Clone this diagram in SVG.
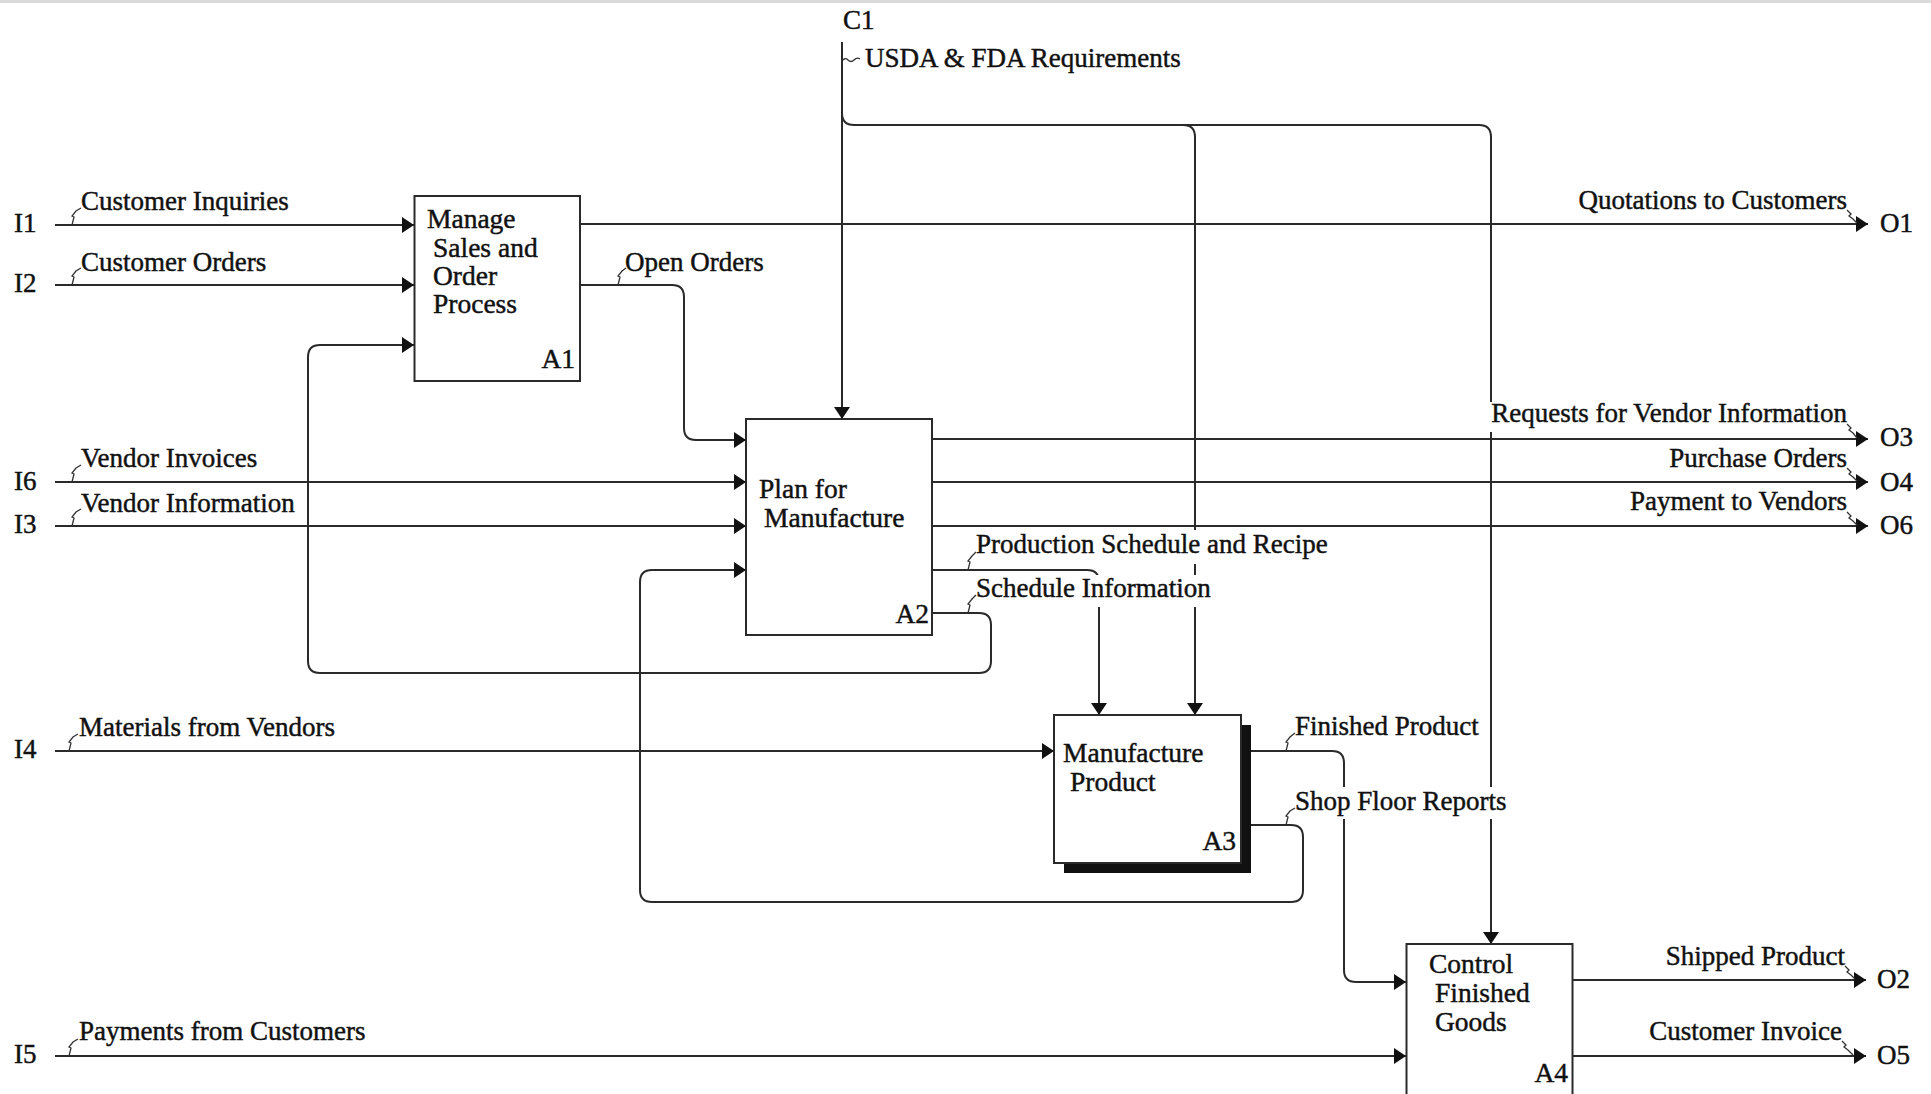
<svg xmlns="http://www.w3.org/2000/svg" width="1931" height="1094" viewBox="0 0 1931 1094">
<style>
.ln{fill:none;stroke:#2a2a2a;stroke-width:2}
.box{fill:#fff;stroke:#2a2a2a;stroke-width:2}
.sq{fill:none;stroke:#333;stroke-width:1.3}
.bg{fill:#fff}
text{font-family:"Liberation Serif","Times New Roman",serif;font-size:27px;fill:#111;stroke:#111;stroke-width:0.45}
.bt{font-size:27.5px}
.end{text-anchor:end}
</style>
<defs>
<marker id="ah" markerUnits="userSpaceOnUse" markerWidth="12" markerHeight="16" refX="12" refY="8" orient="auto" viewBox="0 0 12 16"><path d="M0,0 L12,8 L0,16 z" fill="#111"/></marker>
</defs>
<rect x="0" y="0" width="1931" height="1094" fill="#fff"/>
<rect x="0" y="0" width="1931" height="3" fill="#dadada"/>

<g id="connectors">
<path class="ln" d="M55,225 H414" marker-end="url(#ah)"/>
<path class="ln" d="M55,285 H414" marker-end="url(#ah)"/>
<path class="ln" d="M55,482 H746" marker-end="url(#ah)"/>
<path class="ln" d="M55,526 H746" marker-end="url(#ah)"/>
<path class="ln" d="M55,751 H1054" marker-end="url(#ah)"/>
<path class="ln" d="M55,1056 H1406" marker-end="url(#ah)"/>
<path class="ln" d="M842,42 V419" marker-end="url(#ah)"/>
<path class="ln" d="M842,113 Q842,125 854,125 H1479 Q1491,125 1491,137 V944" marker-end="url(#ah)"/>
<path class="ln" d="M1183,125 Q1195,125 1195,137 V715" marker-end="url(#ah)"/>
<path class="ln" d="M580,224 H1868" marker-end="url(#ah)"/>
<path class="ln" d="M580,285 H672 Q684,285 684,297 V428 Q684,440 696,440 H746" marker-end="url(#ah)"/>
<path class="ln" d="M932,613 H979 Q991,613 991,625 V661 Q991,673 979,673 H320 Q308,673 308,661 V357 Q308,345 320,345 H414" marker-end="url(#ah)"/>
<path class="ln" d="M932,439 H1868" marker-end="url(#ah)"/>
<path class="ln" d="M932,482 H1868" marker-end="url(#ah)"/>
<path class="ln" d="M932,526 H1868" marker-end="url(#ah)"/>
<path class="ln" d="M932,570 H1087 Q1099,570 1099,582 V715" marker-end="url(#ah)"/>
<path class="ln" d="M1250,751 H1332 Q1344,751 1344,763 V970 Q1344,982 1356,982 H1406" marker-end="url(#ah)"/>
<path class="ln" d="M1250,825 H1291 Q1303,825 1303,837 V890 Q1303,902 1291,902 H652 Q640,902 640,890 V582 Q640,570 652,570 H746" marker-end="url(#ah)"/>
<path class="ln" d="M1573,980 H1866" marker-end="url(#ah)"/>
<path class="ln" d="M1573,1056 H1866" marker-end="url(#ah)"/>
</g>

<g id="labels">
<text x="14" y="232">I1</text>
<text x="14" y="292">I2</text>
<text x="14" y="490">I6</text>
<text x="14" y="533">I3</text>
<text x="14" y="758">I4</text>
<text x="14" y="1063">I5</text>
<text x="1880" y="232">O1</text>
<text x="1880" y="446">O3</text>
<text x="1880" y="491">O4</text>
<text x="1880" y="534">O6</text>
<text x="1877" y="988">O2</text>
<text x="1877" y="1064">O5</text>
<text x="843" y="29">C1</text>

<path class="sq" d="M72,225 L74,217 L72,216 L76,211 L81,208"/>
<text x="81" y="210">Customer Inquiries</text>
<path class="sq" d="M72,285 L74,277 L72,276 L76,271 L81,268"/>
<text x="81" y="271">Customer Orders</text>
<path class="sq" d="M72,482 L74,474 L72,473 L76,468 L81,465"/>
<text x="81" y="467">Vendor Invoices</text>
<path class="sq" d="M72,526 L74,518 L72,517 L76,512 L81,509"/>
<text x="81" y="512">Vendor Information</text>
<path class="sq" d="M69,751 L71,743 L69,742 L73,737 L78,734"/>
<text x="79" y="736">Materials from Vendors</text>
<path class="sq" d="M69,1056 L71,1048 L69,1047 L73,1042 L78,1039"/>
<text x="79" y="1040">Payments from Customers</text>

<path class="sq" d="M842,61 q3,-4 6,-1 t6,0 t6,-1"/>
<text x="865" y="67">USDA &amp; FDA Requirements</text>

<path class="sq" d="M618,285 L620,277 L618,276 L622,271 L626,268"/>
<text x="625" y="271">Open Orders</text>

<path class="sq" d="M1847,210 L1851,214 L1849,216 L1853,219 L1857,223"/>
<text class="end" x="1847" y="209">Quotations to Customers</text>
<rect class="bg" x="1486" y="402" width="362" height="30"/>
<path class="sq" d="M1847,424 L1851,428 L1849,430 L1853,433 L1857,438"/>
<text class="end" x="1847" y="422">Requests for Vendor Information</text>
<path class="sq" d="M1847,468 L1851,472 L1849,474 L1853,477 L1857,481"/>
<text class="end" x="1847" y="467">Purchase Orders</text>
<path class="sq" d="M1847,512 L1851,516 L1849,518 L1853,521 L1857,525"/>
<text class="end" x="1847" y="510">Payment to Vendors</text>

<rect class="bg" x="974" y="530" width="360" height="34"/>
<path class="sq" d="M968,570 L970,562 L968,561 L972,556 L976,552"/>
<text x="976" y="553">Production Schedule and Recipe</text>
<rect class="bg" x="974" y="575" width="236" height="32"/>
<path class="sq" d="M968,613 L970,605 L968,604 L972,599 L976,595"/>
<text x="976" y="597">Schedule Information</text>

<path class="sq" d="M1286,751 L1288,743 L1286,742 L1290,737 L1295,733"/>
<text x="1295" y="735">Finished Product</text>
<rect class="bg" x="1293" y="787" width="218" height="32"/>
<path class="sq" d="M1286,825 L1288,817 L1286,816 L1290,811 L1295,808"/>
<text x="1295" y="810">Shop Floor Reports</text>

<path class="sq" d="M1845,966 L1849,970 L1847,972 L1851,975 L1855,979"/>
<text class="end" x="1845" y="965">Shipped Product</text>
<path class="sq" d="M1842,1041 L1846,1045 L1844,1047 L1848,1050 L1853,1055"/>
<text class="end" x="1842" y="1040">Customer Invoice</text>
</g>

<g id="A1">
<rect class="box" x="414.5" y="196" width="165.5" height="185"/>
<text class="bt" x="427" y="228">Manage</text>
<text class="bt" x="433" y="257">Sales and</text>
<text class="bt" x="433" y="285">Order</text>
<text class="bt" x="433" y="313">Process</text>
<text class="bt end" x="575" y="368">A1</text>
</g>

<g id="A2">
<rect class="box" x="746" y="419" width="186" height="216"/>
<text class="bt" x="759" y="498">Plan for</text>
<text class="bt" x="764" y="527">Manufacture</text>
<text class="bt end" x="929" y="623">A2</text>
</g>

<g id="A3">
<rect x="1064" y="725" width="187" height="148" fill="#111"/>
<rect class="box" x="1054" y="715" width="187" height="148"/>
<text class="bt" x="1063" y="762">Manufacture</text>
<text class="bt" x="1070" y="791">Product</text>
<text class="bt end" x="1236" y="850">A3</text>
</g>

<g id="A4">
<rect class="box" x="1406.5" y="944" width="166" height="200"/>
<text class="bt" x="1429" y="973">Control</text>
<text class="bt" x="1435" y="1002">Finished</text>
<text class="bt" x="1435" y="1031">Goods</text>
<text class="bt end" x="1568" y="1082">A4</text>
</g>
</svg>
